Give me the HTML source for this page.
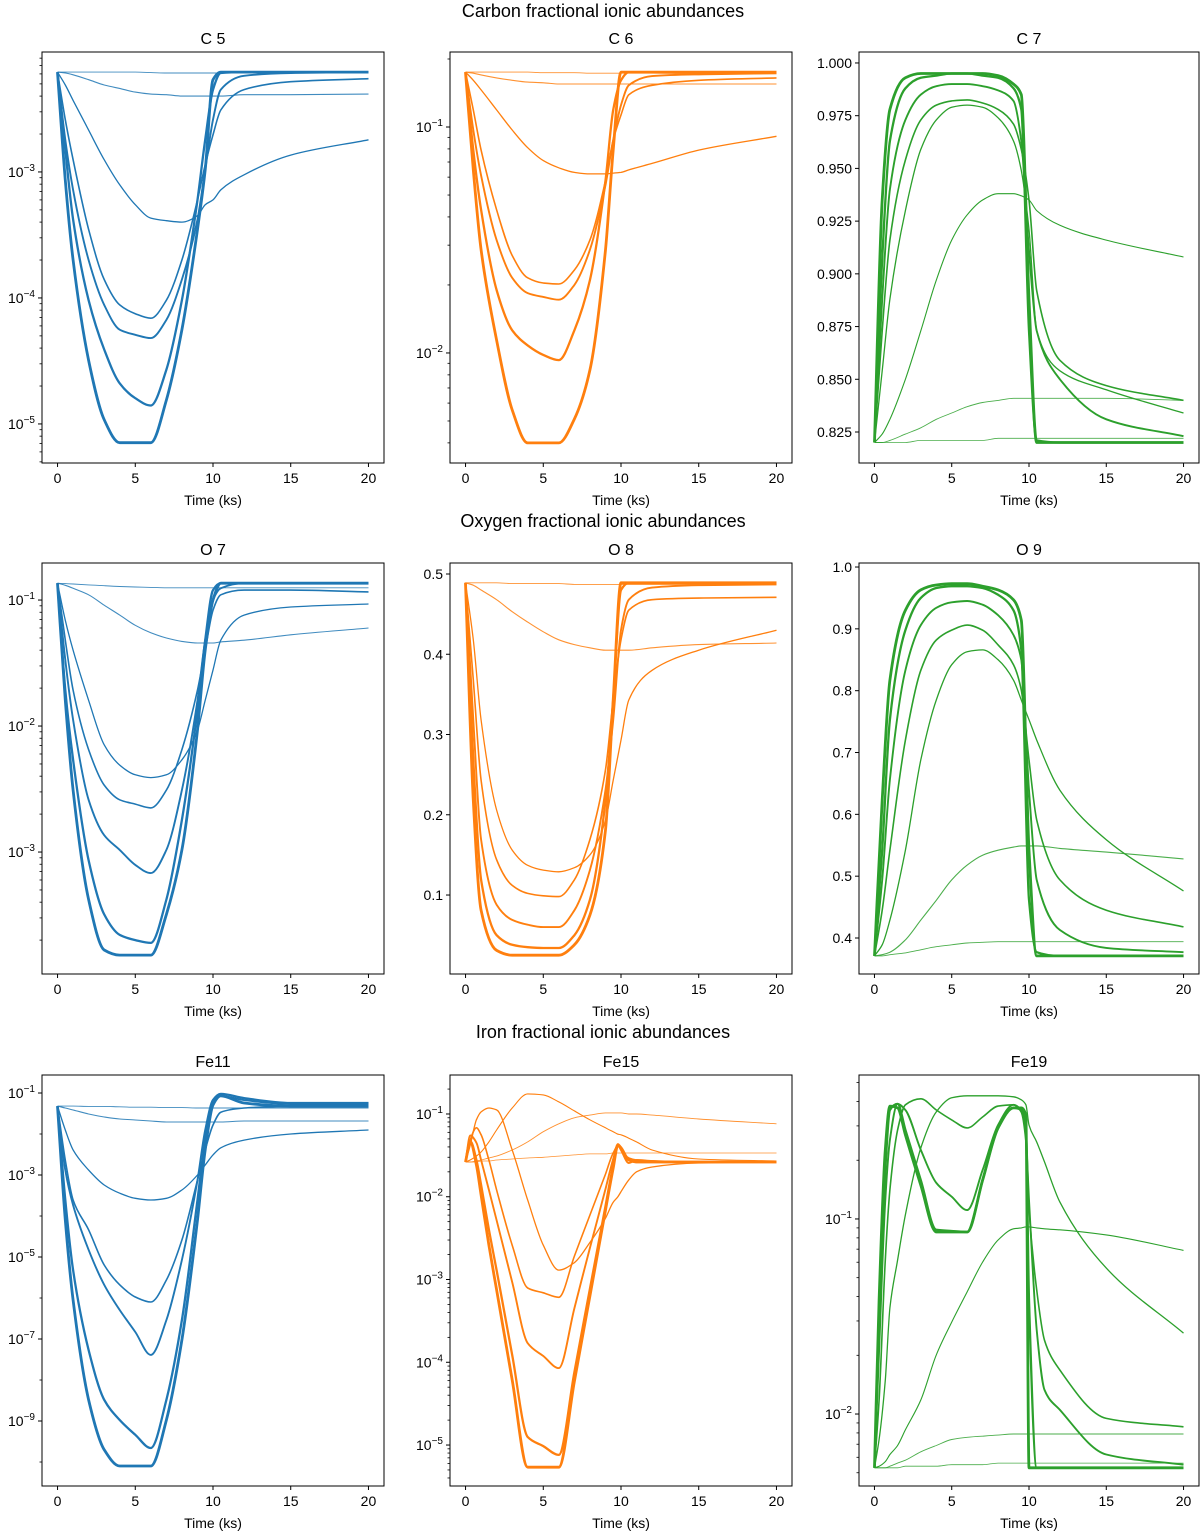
<!DOCTYPE html>
<html><head><meta charset="utf-8"><style>
html,body{margin:0;padding:0;background:#fff;}
svg{display:block;font-family:"Liberation Sans","DejaVu Sans",sans-serif;}
</style></head><body>
<svg id="fig" width="1200" height="1531" viewBox="0 0 1200 1531" xmlns="http://www.w3.org/2000/svg">
<text x="603" y="17" font-size="18" text-anchor="middle">Carbon fractional ionic abundances</text>
<text x="603" y="527" font-size="18" text-anchor="middle">Oxygen fractional ionic abundances</text>
<text x="603" y="1038" font-size="18" text-anchor="middle">Iron fractional ionic abundances</text>
</svg>
<script>
const T = [0,0.5,1,2,3,4,5,6,7,8,9,9.5,10,10.5,12,15,20];
const TF = [0,0.3,0.7,1,1.5,2,3,4,5,6,7,8,9,9.5,9.8,10,10.5,11,12,15,20];
const xTicks = [0,5,10,15,20];

// C 5
const c5a = [6.2e-3,6.2e-3,6.2e-3,6.2e-3,6.2e-3,6.2e-3,6.2e-3,6.15e-3,6.1e-3,6.1e-3,6.1e-3,6.1e-3,6.1e-3,6.1e-3,6.1e-3,6.1e-3,6.1e-3];
const c5b = [6.2e-3,6.1e-3,5.9e-3,5.4e-3,4.9e-3,4.6e-3,4.3e-3,4.15e-3,4.1e-3,4.0e-3,4.0e-3,4.0e-3,4.0e-3,4.0e-3,4.1e-3,4.1e-3,4.15e-3];
const c5c = [6.2e-3,4.9e-3,3.7e-3,2.15e-3,1.25e-3,7.9e-4,5.5e-4,4.3e-4,4.1e-4,4.0e-4,4.5e-4,5.5e-4,6.0e-4,7.2e-4,9.5e-4,1.36e-3,1.8e-3];
const c5d = [6.2e-3,2.6e-3,1.25e-3,3.5e-4,1.4e-4,8.8e-5,7.5e-5,6.9e-5,9.6e-5,2.0e-4,6.0e-4,1.14e-3,1.97e-3,3.1e-3,4.5e-3,5.2e-3,5.5e-3];
const c5e = [6.2e-3,1.8e-3,7.2e-4,2.0e-4,8.8e-5,5.6e-5,5.1e-5,4.8e-5,6.7e-5,1.4e-4,4.2e-4,1.04e-3,2.6e-3,4.5e-3,5.8e-3,6.1e-3,6.2e-3];
const c5f = [6.2e-3,1.5e-3,4.2e-4,9.6e-5,3.9e-5,2.1e-5,1.6e-5,1.4e-5,2.7e-5,9.6e-5,6.0e-4,1.8e-3,4.5e-3,6.1e-3,6.2e-3,6.2e-3,6.2e-3];
const c5g = [6.2e-3,8.6e-4,2.0e-4,3.2e-5,1.08e-5,7.1e-6,7.1e-6,7.1e-6,1.55e-5,5.6e-5,3.5e-4,1.04e-3,5.4e-3,6.2e-3,6.2e-3,6.2e-3,6.2e-3];
const c5Ticks = [1e-3,1e-4,1e-5];
const c5Labels = ["−3","−4","−5"];

// C 6
const c6a = [0.175,0.175,0.175,0.175,0.175,0.175,0.174,0.174,0.174,0.173,0.173,0.173,0.173,0.173,0.173,0.172,0.172];
const c6b = [0.175,0.173,0.170,0.165,0.161,0.158,0.157,0.155,0.155,0.155,0.155,0.155,0.155,0.155,0.155,0.155,0.155];
const c6c = [0.175,0.161,0.146,0.119,0.097,0.081,0.071,0.066,0.063,0.062,0.062,0.0625,0.063,0.0646,0.069,0.079,0.091];
const c6d = [0.175,0.119,0.079,0.043,0.027,0.0215,0.0204,0.0202,0.0233,0.0316,0.058,0.0875,0.113,0.139,0.153,0.161,0.165];
const c6e = [0.175,0.097,0.061,0.0316,0.0215,0.0184,0.0177,0.0172,0.02,0.0286,0.0553,0.0875,0.125,0.153,0.168,0.171,0.173];
const c6f = [0.175,0.079,0.043,0.019,0.0126,0.0108,0.0098,0.0093,0.0126,0.021,0.058,0.119,0.161,0.175,0.175,0.175,0.175];
const c6g = [0.175,0.0646,0.0286,0.0114,0.0056,0.004,0.004,0.004,0.0051,0.0084,0.0286,0.079,0.175,0.175,0.175,0.175,0.175];
const c6Ticks = [1e-1,1e-2];
const c6Labels = ["−1","−2"];

// C 7
const c7a0 = [0.820,0.820,0.820,0.820,0.821,0.821,0.821,0.821,0.821,0.822,0.822,0.822,0.822,0.822,0.822,0.822,0.822];
const c7a = [0.820,0.820,0.821,0.824,0.827,0.831,0.834,0.837,0.839,0.840,0.841,0.841,0.841,0.841,0.841,0.841,0.840];
const c7b = [0.820,0.824,0.831,0.850,0.873,0.897,0.916,0.928,0.935,0.938,0.938,0.937,0.935,0.930,0.923,0.916,0.908];
const c7c = [0.820,0.854,0.888,0.930,0.959,0.973,0.979,0.980,0.979,0.974,0.963,0.949,0.921,0.873,0.854,0.845,0.834];
const c7d = [0.820,0.873,0.916,0.954,0.973,0.980,0.982,0.9825,0.981,0.978,0.971,0.959,0.935,0.892,0.859,0.847,0.840];
const c7e = [0.820,0.888,0.940,0.973,0.985,0.989,0.990,0.990,0.989,0.987,0.982,0.963,0.911,0.873,0.850,0.831,0.823];
const c7f = [0.820,0.907,0.963,0.988,0.993,0.994,0.995,0.995,0.994,0.993,0.988,0.978,0.873,0.821,0.820,0.820,0.820];
const c7g = [0.820,0.935,0.978,0.993,0.995,0.995,0.995,0.995,0.995,0.994,0.990,0.985,0.888,0.820,0.820,0.820,0.820];
const c7Ticks = [0.825,0.85,0.875,0.9,0.925,0.95,0.975,1.0];
const c7Labels = ["0.825","0.850","0.875","0.900","0.925","0.950","0.975","1.000"];

// O 7
const o7a = [0.136,0.135,0.134,0.132,0.130,0.128,0.127,0.126,0.125,0.125,0.125,0.125,0.125,0.125,0.125,0.125,0.125];
const o7b = [0.136,0.131,0.124,0.11,0.091,0.076,0.063,0.055,0.05,0.047,0.0456,0.0456,0.0456,0.0465,0.048,0.053,0.06];
const o7c = [0.136,0.069,0.04,0.016,0.0071,0.0049,0.0041,0.0039,0.0041,0.0054,0.0093,0.016,0.0278,0.048,0.076,0.088,0.093];
const o7d = [0.136,0.048,0.0193,0.0065,0.0034,0.0026,0.0024,0.00224,0.0031,0.0065,0.0193,0.04,0.083,0.11,0.12,0.12,0.116];
const o7e = [0.136,0.0334,0.0112,0.0026,0.00136,0.00104,0.00079,0.00068,0.00104,0.0031,0.016,0.048,0.1,0.124,0.136,0.136,0.136];
const o7f = [0.136,0.0193,0.0054,0.00086,0.00032,0.00022,0.0002,0.00019,0.00042,0.0018,0.0134,0.048,0.12,0.136,0.136,0.136,0.136];
const o7g = [0.136,0.016,0.0031,0.00042,0.000167,0.000152,0.000152,0.000152,0.00032,0.00104,0.0093,0.04,0.1,0.136,0.136,0.136,0.136];
const o7Ticks = [1e-1,1e-2,1e-3];
const o7Labels = ["−1","−2","−3"];

// O 8
const o8a = [0.489,0.489,0.489,0.489,0.488,0.488,0.488,0.488,0.487,0.487,0.487,0.487,0.487,0.487,0.487,0.487,0.487];
const o8b = [0.489,0.486,0.480,0.468,0.453,0.440,0.428,0.418,0.412,0.408,0.405,0.405,0.405,0.405,0.408,0.412,0.414];
const o8c = [0.489,0.418,0.318,0.206,0.156,0.137,0.131,0.129,0.134,0.150,0.193,0.243,0.293,0.343,0.380,0.405,0.430];
const o8d = [0.489,0.368,0.243,0.144,0.112,0.102,0.099,0.098,0.119,0.169,0.256,0.343,0.418,0.455,0.468,0.470,0.471];
const o8e = [0.489,0.318,0.169,0.088,0.069,0.063,0.060,0.060,0.081,0.131,0.231,0.318,0.430,0.468,0.483,0.486,0.487];
const o8f = [0.489,0.268,0.119,0.050,0.038,0.035,0.034,0.034,0.050,0.094,0.218,0.343,0.480,0.489,0.489,0.489,0.489];
const o8g = [0.489,0.218,0.081,0.031,0.025,0.025,0.025,0.025,0.038,0.075,0.181,0.343,0.489,0.489,0.489,0.489,0.489];
const o8Ticks = [0.1,0.2,0.3,0.4,0.5];
const o8Labels = ["0.1","0.2","0.3","0.4","0.5"];

// O 9
const o9a = [0.371,0.371,0.373,0.376,0.381,0.386,0.389,0.392,0.393,0.394,0.394,0.394,0.394,0.394,0.394,0.394,0.394];
const o9b = [0.371,0.373,0.377,0.397,0.429,0.461,0.494,0.518,0.534,0.542,0.547,0.549,0.549,0.549,0.545,0.539,0.528];
const o9c = [0.371,0.389,0.429,0.542,0.688,0.785,0.842,0.863,0.866,0.850,0.817,0.785,0.753,0.720,0.639,0.559,0.476];
const o9d = [0.371,0.445,0.542,0.720,0.833,0.882,0.898,0.906,0.898,0.874,0.842,0.801,0.688,0.591,0.494,0.445,0.418];
const o9e = [0.371,0.494,0.656,0.833,0.906,0.934,0.943,0.945,0.939,0.922,0.890,0.850,0.639,0.494,0.413,0.384,0.377];
const o9f = [0.371,0.542,0.753,0.898,0.950,0.966,0.969,0.969,0.966,0.955,0.930,0.866,0.462,0.377,0.371,0.371,0.371];
const o9g = [0.371,0.623,0.817,0.930,0.963,0.971,0.973,0.973,0.969,0.963,0.947,0.914,0.542,0.371,0.371,0.371,0.371];
const o9Ticks = [0.4,0.5,0.6,0.7,0.8,0.9,1.0];
const o9Labels = ["0.4","0.5","0.6","0.7","0.8","0.9","1.0"];

// Fe11
const f11a = [0.048,0.048,0.048,0.047,0.047,0.046,0.045,0.045,0.044,0.044,0.043,0.043,0.043,0.043,0.043,0.043,0.043];
const f11b = [0.048,0.043,0.0385,0.0308,0.026,0.0232,0.022,0.0207,0.0196,0.0196,0.0196,0.0196,0.0196,0.0196,0.0207,0.0207,0.0207];
const f11c = [0.048,0.0125,0.0041,0.00132,5.7e-4,3.6e-4,2.7e-4,2.45e-4,2.7e-4,4.3e-4,1.0e-3,1.75e-3,3.1e-3,4.6e-3,7.1e-3,0.01,0.0125];
const f11d = [0.048,2.3e-3,2.45e-4,4.6e-5,6.4e-6,2.1e-6,1.06e-6,8.0e-7,2.75e-6,2.6e-5,7.5e-4,4.1e-3,0.0166,0.034,0.043,0.048,0.057];
const f11e = [0.048,1.32e-3,1.85e-4,1.5e-5,2.1e-6,5.1e-7,1.48e-7,4.1e-8,2.9e-7,8.5e-6,7.5e-4,0.0125,0.067,0.085,0.067,0.054,0.054];
const f11f = [0.048,2.45e-4,4.8e-6,5.4e-8,3.3e-9,1.06e-9,4.6e-10,2.2e-10,3.3e-9,2.9e-7,2.45e-4,7.1e-3,0.067,0.095,0.075,0.057,0.057];
const f11g = [0.048,8e-5,8.9e-7,3.3e-9,2.0e-10,8e-11,8e-11,8e-11,1.06e-9,9.5e-8,8e-5,4.1e-3,0.051,0.085,0.057,0.048,0.048];
const f11Ticks = [1e-1,1e-3,1e-5,1e-7,1e-9];
const f11Labels = ["−1","−3","−5","−7","−9"];

// Fe15
const f15a = [0.0263,0.0263,0.0263,0.027,0.027,0.0278,0.0286,0.0294,0.030,0.031,0.032,0.0329,0.0329,0.0338,0.0338,0.0338,0.0338,0.0338,0.0338,0.0338,0.0338];
const f15b = [0.0263,0.0263,0.027,0.0278,0.0294,0.031,0.0367,0.046,0.061,0.076,0.090,0.097,0.103,0.103,0.103,0.103,0.100,0.100,0.097,0.087,0.076];
const f15c = [0.0263,0.0278,0.031,0.0347,0.046,0.064,0.118,0.175,0.170,0.140,0.109,0.085,0.068,0.061,0.057,0.056,0.051,0.046,0.0367,0.0286,0.027];
const f15d = [0.0263,0.042,0.085,0.106,0.118,0.112,0.0367,0.0091,0.0026,0.0013,0.0016,0.0028,0.0055,0.0086,0.0100,0.0115,0.0160,0.0200,0.0229,0.0256,0.0263];
const f15e = [0.0263,0.0485,0.068,0.056,0.0278,0.0121,0.0026,7.9e-4,6.9e-4,6.1e-4,1.92e-3,0.0060,0.0188,0.0338,0.041,0.0367,0.0294,0.0278,0.027,0.0263,0.0263];
const f15f = [0.0263,0.055,0.045,0.0278,0.0121,0.0052,9.3e-4,1.7e-4,1.19e-4,8.5e-5,4.5e-4,0.0024,0.0124,0.0286,0.043,0.0367,0.0256,0.0278,0.027,0.0263,0.0263];
const f15g = [0.0263,0.047,0.0278,0.0139,0.004,0.0013,1.22e-4,1.25e-5,9.7e-6,7.6e-6,7.6e-5,7.7e-4,0.0077,0.0242,0.043,0.039,0.0278,0.0263,0.0263,0.0263,0.0263];
const f15h = [0.0263,0.046,0.0242,0.0105,0.0026,7.5e-4,6.1e-5,5.4e-6,5.4e-6,5.4e-6,5.9e-5,6.3e-4,0.0069,0.0222,0.042,0.039,0.0278,0.0263,0.0263,0.0263,0.0263];
const f15Ticks = [1e-1,1e-2,1e-3,1e-4,1e-5];
const f15Labels = ["−1","−2","−3","−4","−5"];

// Fe19
const f19a = [0.0053,0.0053,0.0053,0.0053,0.0053,0.0054,0.0054,0.0054,0.0055,0.0055,0.0055,0.0056,0.0056,0.0056,0.0056,0.0056,0.0056,0.0056,0.0056,0.0056,0.0056];
const f19b = [0.0053,0.0053,0.0053,0.0054,0.0056,0.0058,0.0064,0.0069,0.0074,0.0076,0.0077,0.0078,0.0079,0.0079,0.0079,0.0079,0.0079,0.0079,0.0079,0.0079,0.0079];
const f19c = [0.0053,0.0054,0.0057,0.0062,0.0069,0.0083,0.0118,0.0201,0.0296,0.0423,0.0601,0.078,0.089,0.090,0.091,0.091,0.090,0.089,0.088,0.0828,0.069];
const f19d = [0.0053,0.0074,0.0149,0.035,0.0616,0.105,0.231,0.354,0.418,0.428,0.428,0.428,0.423,0.408,0.385,0.303,0.248,0.196,0.122,0.056,0.026];
const f19e = [0.0053,0.0118,0.0616,0.141,0.286,0.385,0.413,0.362,0.322,0.293,0.333,0.379,0.385,0.362,0.303,0.114,0.0433,0.0239,0.0168,0.0095,0.0086];
const f19f = [0.0053,0.0213,0.125,0.254,0.389,0.362,0.226,0.153,0.13,0.111,0.178,0.303,0.385,0.354,0.254,0.125,0.027,0.0133,0.0105,0.0062,0.0055];
const f19g = [0.0053,0.0303,0.178,0.362,0.389,0.286,0.158,0.088,0.0867,0.0857,0.158,0.293,0.371,0.362,0.286,0.0384,0.0053,0.0053,0.0053,0.0053,0.0053];
const f19h = [0.0053,0.0384,0.226,0.379,0.371,0.27,0.149,0.0857,0.0857,0.0857,0.158,0.293,0.371,0.371,0.341,0.0053,0.0053,0.0053,0.0053,0.0053,0.0053];
const f19Ticks = [1e-1,1e-2];
const f19Labels = ["−1","−2"];

const W7 = [0.9,1.1,1.3,1.6,1.9,2.3,2.8];
const W8 = [0.8,0.9,1.1,1.3,1.6,1.9,2.3,2.8];
const BLUE="#1f77b4", ORANGE="#ff7f0e", GREEN="#2ca02c";

const panels = [
 {name:"c5",title:"C 5",col:0,row:0,color:BLUE,log:true,dom:[-5.31,-2.048],t:T,series:[c5a,c5b,c5c,c5d,c5e,c5f,c5g],w:W7,ticks:c5Ticks,labels:c5Labels,minorDec:false},
 {name:"c6",title:"C 6",col:1,row:0,color:ORANGE,log:true,dom:[-2.487,-0.668],t:T,series:[c6a,c6b,c6c,c6d,c6e,c6f,c6g],w:W7,ticks:c6Ticks,labels:c6Labels,minorDec:false},
 {name:"c7",title:"C 7",col:2,row:0,color:GREEN,log:false,dom:[0.8103,1.0052],t:T,series:[c7a0,c7a,c7b,c7c,c7d,c7e,c7f,c7g],w:W8,ticks:c7Ticks,labels:c7Labels},
 {name:"o7",title:"O 7",col:0,row:1,color:BLUE,log:true,dom:[-3.968,-0.706],t:T,series:[o7a,o7b,o7c,o7d,o7e,o7f,o7g],w:W7,ticks:o7Ticks,labels:o7Labels,minorDec:false},
 {name:"o8",title:"O 8",col:1,row:1,color:ORANGE,log:false,dom:[0.0016,0.5137],t:T,series:[o8a,o8b,o8c,o8d,o8e,o8f,o8g],w:W7,ticks:o8Ticks,labels:o8Labels},
 {name:"o9",title:"O 9",col:2,row:1,color:GREEN,log:false,dom:[0.3418,1.0065],t:T,series:[o9a,o9b,o9c,o9d,o9e,o9f,o9g],w:W7,ticks:o9Ticks,labels:o9Labels},
 {name:"fe11",title:"Fe11",col:0,row:2,color:BLUE,log:true,dom:[-10.585,-0.561],t:T,series:[f11a,f11b,f11c,f11d,f11e,f11f,f11g],w:W7,ticks:f11Ticks,labels:f11Labels,minorDec:true},
 {name:"fe15",title:"Fe15",col:1,row:2,color:ORANGE,log:true,dom:[-5.495,-0.529],t:TF,series:[f15a,f15b,f15c,f15d,f15e,f15f,f15g,f15h],w:W8,ticks:f15Ticks,labels:f15Labels,minorDec:false},
 {name:"fe19",title:"Fe19",col:2,row:2,color:GREEN,log:true,dom:[-2.369,-0.262],t:TF,series:[f19a,f19b,f19c,f19d,f19e,f19f,f19g,f19h],w:W8,ticks:f19Ticks,labels:f19Labels,minorDec:false}
];

const NS="http://www.w3.org/2000/svg";
const svg=document.getElementById("fig");
const X0=[42,450,859], WID=[342,342,340], Y0=[52,563,1075], H=411;
function mk(tag,attrs,parent){const e=document.createElementNS(NS,tag);for(const k in attrs)e.setAttribute(k,attrs[k]);(parent||svg).appendChild(e);return e;}

// monotone cubic path through pixel points (no overshoot)
function monoPath(px,py){
  const n=px.length, d=[], m=[];
  for(let i=0;i<n-1;i++){d.push((py[i+1]-py[i])/(px[i+1]-px[i]));}
  m.push(d[0]);
  for(let i=1;i<n-1;i++){
    if(d[i-1]*d[i]<=0)m.push(0);
    else{const w1=2*(px[i+1]-px[i])+(px[i]-px[i-1]),w2=(px[i+1]-px[i])+2*(px[i]-px[i-1]);m.push((w1+w2)/(w1/d[i-1]+w2/d[i]));}
  }
  m.push(d[n-2]);
  let s="M"+px[0].toFixed(1)+","+py[0].toFixed(1);
  for(let i=0;i<n-1;i++){
    const h=(px[i+1]-px[i])/3;
    s+=" C"+(px[i]+h).toFixed(1)+","+(py[i]+m[i]*h).toFixed(1)+" "+(px[i+1]-h).toFixed(1)+","+(py[i+1]-m[i+1]*h).toFixed(1)+" "+px[i+1].toFixed(1)+","+py[i+1].toFixed(1);
  }
  return s;
}

panels.forEach(function(p){
  const x0=X0[p.col], w=WID[p.col], y0=Y0[p.row];
  const xs=function(t){return x0+(t+1)/22*w;};
  const ys=function(v){const u=p.log?Math.log10(v):v;return y0+H*(p.dom[1]-u)/(p.dom[1]-p.dom[0]);};
  const g=mk("g",{});
  
  
  const cp=mk("clipPath",{id:"clip-"+p.name},g);
  mk("rect",{x:x0,y:y0,width:w,height:H},cp);
  const lines=mk("g",{"clip-path":"url(#clip-"+p.name+")"},g);
  
  
  p.series.forEach(function(s,i){
    const px=s.map(function(v,j){return xs(p.t[j]);});
    const py=s.map(function(v){return ys(v);});
    const pl=mk("path",{d:monoPath(px,py),fill:"none",stroke:p.color,"stroke-width":p.w[i],"stroke-linejoin":"round","stroke-opacity":(i<2?0.85:1)},lines);
    
    
  });
  const frame=mk("rect",{x:x0,y:y0,width:w,height:H,fill:"none",stroke:"#000","stroke-width":1},g);
  
  
  const tt=mk("text",{x:x0+w/2,y:y0-8,"font-size":16,"text-anchor":"middle"},g);
  tt.textContent=p.title;
  
  
  xTicks.forEach(function(t){
    const x=xs(t);
    mk("line",{x1:x,x2:x,y1:y0+H,y2:y0+H+4,stroke:"#000","stroke-width":1},g);
    const lb=mk("text",{x:x,y:y0+H+20,"font-size":14,"text-anchor":"middle"},g);
    lb.textContent=String(t);
    
    
  });
  const xl=mk("text",{x:x0+w/2,y:y0+H+42,"font-size":14,"text-anchor":"middle"},g);
  xl.textContent="Time (ks)";
  
  
  p.ticks.forEach(function(v,i){
    const y=ys(v);
    mk("line",{x1:x0-4,x2:x0,y1:y,y2:y,stroke:"#000","stroke-width":1},g);
    const lb=mk("text",{x:x0-7,y:y+5,"font-size":14,"text-anchor":"end"},g);
    
    
    if(p.log){
      const a=mk("tspan",{},lb);a.textContent="10";
      const b=mk("tspan",{dy:-6,"font-size":10},lb);b.textContent=p.labels[i];
    } else { lb.textContent=p.labels[i]; }
  });
  if(p.log){
    const lo=Math.floor(p.dom[0]), hi=Math.ceil(p.dom[1]);
    for(let k=lo;k<=hi;k++){
      if(p.minorDec){
        const y=ys(Math.pow(10,k));
        if(k>p.dom[0]&&k<p.dom[1]&&Math.abs(k)%2===0) mk("line",{x1:x0-2.5,x2:x0,y1:y,y2:y,stroke:"#000","stroke-width":0.8},g);
      } else {
        for(let m=2;m<=9;m++){
          const L=k+Math.log10(m);
          if(L>p.dom[0]&&L<p.dom[1]){const y=ys(Math.pow(10,L));mk("line",{x1:x0-2.5,x2:x0,y1:y,y2:y,stroke:"#000","stroke-width":0.8},g);}
        }
      }
    }
  }
});
</script>
</body></html>
